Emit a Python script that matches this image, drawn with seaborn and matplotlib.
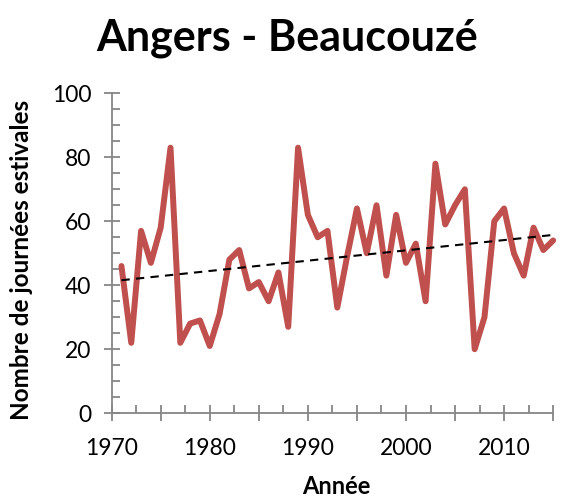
import numpy as np
import pandas as pd
import matplotlib
matplotlib.use('Agg')
import matplotlib.pyplot as plt
import seaborn as sns

# --- DATA ---
years = list(range(1971, 2016))
journees = [46, 22, 57, 47, 58, 83, 22, 28, 29, 21,
            31, 48, 51, 39, 41, 35, 44, 27, 83, 62,
            55, 57, 33, 49, 64, 50, 65, 43, 62, 47,
            53, 35, 78, 59, 65, 70, 20, 30, 60, 64,
            50, 43, 58, 51, 54]
x_ticks = list(range(1970, 2016, 5))
y_ticks = list(range(0, 101, 20))
# ------------

LINE_COLOR = '#C0504D'
AXIS_COLOR = '#868686'


def setup_plotting():
    sns.set_style('white')
    plt.rcParams['font.family'] = ['Lato', 'DejaVu Sans']
    plt.rcParams['text.color'] = 'black'


def plot_chart():
    df = pd.DataFrame({'annee': years, 'jours': journees})

    # linear trend line (like the Excel one)
    slope, intercept = np.polyfit(df['annee'], df['jours'], 1)
    df['tendance'] = slope * df['annee'] + intercept

    fig = plt.figure(figsize=(5.61, 4.99), dpi=100)
    ax = fig.add_axes([0.199, 0.172, 0.787, 0.641])

    sns.lineplot(data=df, x='annee', y='jours', color=LINE_COLOR,
                 linewidth=4.3, ax=ax, clip_on=False, zorder=3)
    sns.lineplot(data=df, x='annee', y='tendance', color='black',
                 linewidth=1.5, linestyle=(0, (4, 3)), ax=ax, zorder=4)

    ax.set_xlim(1970, 2015)
    ax.set_ylim(0, 100)

    ax.set_xticks(x_ticks)
    ax.set_xticklabels([str(t) if t % 10 == 0 else '' for t in x_ticks])
    ax.set_xticks(np.arange(1972.5, 2015, 5), minor=True)
    ax.set_yticks(y_ticks)
    ax.set_yticklabels([str(t) for t in y_ticks])
    ax.set_yticks(range(0, 101, 5), minor=True)

    for side in ['top', 'right']:
        ax.spines[side].set_visible(False)
    for side in ['left', 'bottom']:
        ax.spines[side].set_color(AXIS_COLOR)
        ax.spines[side].set_linewidth(1.3)

    # seaborn's white style hides the ticks, turn them back on
    ax.tick_params(which='both', bottom=True, left=True, top=False, right=False)
    ax.tick_params(which='major', direction='inout', length=11.5, width=1.3,
                   color=AXIS_COLOR, labelsize=16.5, labelcolor='black')
    ax.tick_params(which='minor', direction='in', length=5.8, width=1.3,
                   color=AXIS_COLOR)
    ax.tick_params(axis='x', which='major', pad=12)
    ax.tick_params(axis='y', which='major', pad=9)

    ax.set_xlabel('')
    ax.set_ylabel('')
    fig.text(0.6, 1 - 494 / 499, 'Année', ha='center', va='baseline',
             fontsize=17, fontweight='bold')
    fig.text(22 / 561, 1 - 259.5 / 499, 'Nombre de journées estivales',
             ha='center', va='center', rotation=90,
             fontsize=17.5, fontweight='bold')
    fig.text(0.512, 1 - 50 / 499, 'Angers - Beaucouzé', ha='center',
             va='baseline', fontsize=31, fontweight='bold')

    fig.savefig('out.png', dpi=100)
    plt.close(fig)


if __name__ == '__main__':
    setup_plotting()
    plot_chart()
